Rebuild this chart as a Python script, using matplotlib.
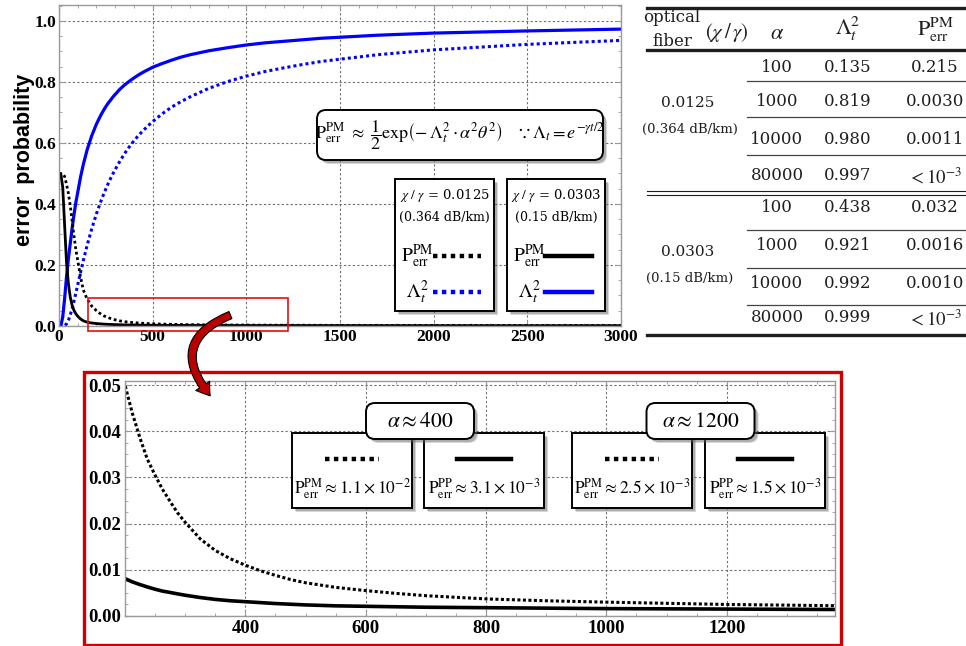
import matplotlib
matplotlib.use("Agg")
import matplotlib.pyplot as plt
from matplotlib.transforms import Affine2D
from matplotlib.patches import FancyBboxPatch, Rectangle, FancyArrowPatch
from matplotlib.lines import Line2D
from matplotlib.ticker import MultipleLocator

W, H = 966, 646

# alpha values shared by every curve
alpha = [0, 10, 20, 30, 40, 50, 60, 70, 80, 90, 100,
         115, 130, 150, 175,
         200, 212, 225, 237, 250, 262, 275, 287, 300,
         325, 350, 375, 400, 425, 450, 475, 500,
         550, 600, 650, 700,
         800, 900, 1000, 1100, 1200, 1300, 1400,
         1700, 2000, 2500, 3000]

# chi/gamma = 0.0303 (0.15 dB/km): solid lines
p_err_0303 = [0.500, 0.497, 0.455, 0.330, 0.210, 0.140, 0.095, 0.068, 0.051, 0.040, 0.032,
              0.023, 0.017, 0.0125, 0.0098,
              0.0081, 0.0074, 0.0068, 0.0063, 0.0058, 0.0054, 0.0051, 0.0048, 0.0045,
              0.0040, 0.0036, 0.0033, 0.0031, 0.0029, 0.0027, 0.00255, 0.0024,
              0.0022, 0.0021, 0.0020, 0.0019,
              0.0018, 0.0017, 0.0016, 0.00155, 0.0015, 0.00145, 0.0014,
              0.0013, 0.0012, 0.0011, 0.0011]
lam2_0303 = [0.0, 0.0003, 0.03, 0.09, 0.16, 0.22, 0.27, 0.32, 0.365, 0.405, 0.438,
             0.488, 0.530, 0.577, 0.624,
             0.662, 0.677, 0.693, 0.706, 0.719, 0.730, 0.740, 0.750, 0.759,
             0.776, 0.790, 0.802, 0.813, 0.823, 0.832, 0.840, 0.848,
             0.860, 0.871, 0.881, 0.889,
             0.902, 0.912, 0.921, 0.928, 0.933, 0.938, 0.943,
             0.953, 0.960, 0.967, 0.973]

# chi/gamma = 0.0125 (0.364 dB/km): dotted lines
p_err_0125 = [0.500, 0.500, 0.499, 0.490, 0.465, 0.435, 0.395, 0.345, 0.295, 0.250, 0.215,
              0.160, 0.118, 0.088, 0.065,
              0.050, 0.044, 0.0385, 0.034, 0.0305, 0.0275, 0.0248, 0.0224, 0.0203,
              0.0167, 0.0142, 0.0124, 0.0110, 0.0098, 0.0088, 0.0079, 0.0072,
              0.0062, 0.0055, 0.0049, 0.0044,
              0.0037, 0.0033, 0.0030, 0.00275, 0.0025, 0.00235, 0.0022,
              0.0019, 0.0017, 0.0014, 0.0013]
lam2_0125 = [0.0, 0.0, 0.0001, 0.0013, 0.0067, 0.018, 0.036, 0.057, 0.082, 0.108, 0.135,
             0.176, 0.215, 0.264, 0.319,
             0.368, 0.389, 0.411, 0.430, 0.449, 0.466, 0.483, 0.498, 0.513,
             0.540, 0.565, 0.587, 0.607, 0.625, 0.641, 0.656, 0.670,
             0.695, 0.717, 0.735, 0.751,
             0.779, 0.801, 0.819, 0.834, 0.846, 0.857, 0.867,
             0.889, 0.905, 0.923, 0.936]

# values quoted in the zoomed panel
note_alpha = [400, 1200]
note_pm = [("1.1", -2), ("2.5", -3)]
note_pp = [("3.1", -3), ("1.5", -3)]

# table on the right
tab_ratio = ["0.0125", "0.0303"]
tab_loss = ["(0.364 dB/km)", "(0.15 dB/km)"]
tab_alpha = ["100", "1000", "10000", "80000"]
tab_lam2 = [["0.135", "0.819", "0.980", "0.997"],
            ["0.438", "0.921", "0.992", "0.999"]]
tab_perr = [["0.215", "0.0030", "0.0011", r"$<10^{-3}$"],
            ["0.032", "0.0016", "0.0010", r"$<10^{-3}$"]]

plt.rcParams["mathtext.fontset"] = "stix"
plt.rcParams["font.family"] = "DejaVu Serif"

fig = plt.figure(figsize=(W / 100, H / 100), dpi=100)
# pixel coordinates measured from the top-left corner
px = Affine2D().scale(1 / W, -1 / H).translate(0, 1) + fig.transFigure

PERR = r"$\mathrm{P}_{\mathrm{err}}^{\mathrm{PM}}$"


def tickfont(size):
    return dict(family="Liberation Serif", weight="bold", size=size)


def ax_rect(l, t, r, b):
    return [l / W, 1 - b / H, (r - l) / W, (b - t) / H]


def frame_style(a, xmin, ymin, pad):
    for s in a.spines.values():
        s.set_color("#9a9a9a")
        s.set_linewidth(1.0)
    a.xaxis.set_minor_locator(MultipleLocator(xmin))
    a.yaxis.set_minor_locator(MultipleLocator(ymin))
    a.tick_params(which="both", direction="in", top=True, right=True,
                  color="#9a9a9a", pad=pad)
    a.tick_params(which="major", length=4)
    a.tick_params(which="minor", length=2)
    a.grid(True, which="major", color="#6f6f6f", lw=0.8, ls=(0, (2, 2)))
    a.set_axisbelow(True)


def box(x0, y0, x1, y1, rounded=False, z=5):
    style = "round,pad=0,rounding_size=9" if rounded else "square,pad=0"
    for off, al in ((4, 0.25), (3, 0.35)):
        fig.add_artist(FancyBboxPatch((x0 + off, y0 + off), x1 - x0, y1 - y0,
                                      boxstyle=style, fc="#606060", ec="none",
                                      alpha=al, transform=px, zorder=z))
    fig.add_artist(FancyBboxPatch((x0, y0), x1 - x0, y1 - y0, boxstyle=style,
                                  fc="white", ec="black", lw=1.4,
                                  transform=px, zorder=z + 0.5))


def sample(x0, x1, y, color, dotted, z=7):
    ls = (0, (1, 1)) if dotted else "-"
    fig.add_artist(Line2D([x0, x1], [y, y], color=color, lw=3.2, ls=ls,
                          transform=px, zorder=z))


def label(x, y, s, size, z=7, **kw):
    fig.text(x, y, s, transform=px, ha=kw.pop("ha", "center"), va="center",
             fontsize=size, zorder=z, **kw)


# ---------------- main plot ----------------
ax = fig.add_axes(ax_rect(59, 5, 621, 326))
ax.plot(alpha, lam2_0303, color="#0000ff", lw=2.3)
ax.plot(alpha, lam2_0125, color="#0000ff", lw=2.2, ls=(0, (1, 1)))
ax.plot(alpha, p_err_0303, color="black", lw=2.0)
ax.plot(alpha, p_err_0125, color="black", lw=2.0, ls=(0, (1, 1)))
ax.set_xlim(0, 3000)
ax.set_ylim(0, 1.052)
ax.set_xticks(range(0, 3001, 500))
ax.set_xticklabels([str(v) for v in range(0, 3001, 500)], **tickfont(12.5))
ax.set_yticks([0, 0.2, 0.4, 0.6, 0.8, 1.0])
ax.set_yticklabels(["0.0", "0.2", "0.4", "0.6", "0.8", "1.0"], **tickfont(12.5))
frame_style(ax, 100, 0.05, 2)

# region shown enlarged below
ax.add_patch(Rectangle((155, -0.016), 1065, 0.108, fill=False, ec="#e01010",
                       lw=1.2, clip_on=False, zorder=6))

fig.text(25, 160, "error  probability", transform=px, rotation=90,
         ha="center", va="center", family="Liberation Sans", weight="bold",
         fontsize=15.5)

# formula box
box(317, 110, 603, 160, rounded=True)
label(460, 135, PERR[:-1] + r"\ \approx\ \dfrac{1}{2}\mathrm{exp}\left(-\,\Lambda_t^2"
      r"\cdot\alpha^2\theta^2\right)\quad\because\Lambda_t=e^{-\gamma t/2}$", 13)

# legend boxes
for (x0, x1), ratio, loss, dotted in (((395, 494), tab_ratio[0], tab_loss[0], True),
                                      ((507, 605), tab_ratio[1], tab_loss[1], False)):
    box(x0, 179, x1, 311)
    xc = (x0 + x1) / 2
    label(xc, 196, r"$\chi\ /\ \gamma$ = " + ratio, 9.5)
    label(xc, 217, loss, 9)
    label(x0 + 22, 256, PERR, 14)
    sample(x0 + 38, x1 - 13, 256, "black", dotted)
    label(x0 + 22, 292, r"$\Lambda_t^2$", 14)
    sample(x0 + 38, x1 - 13, 292, "#0000ff", dotted)

# ---------------- zoomed panel ----------------
ax2 = fig.add_axes(ax_rect(125, 381, 835, 616))
ax2.plot(alpha, p_err_0303, color="black", lw=2.6)
ax2.plot(alpha, p_err_0125, color="black", lw=2.2, ls=(0, (1, 0.8)))
ax2.set_xlim(200, 1380)
ax2.set_ylim(0, 0.0509)
ax2.set_xticks([400, 600, 800, 1000, 1200])
ax2.set_xticklabels(["400", "600", "800", "1000", "1200"], **tickfont(13.5))
ax2.set_yticks([0, 0.01, 0.02, 0.03, 0.04, 0.05])
ax2.set_yticklabels(["0.00", "0.01", "0.02", "0.03", "0.04", "0.05"], **tickfont(13.5))
frame_style(ax2, 50, 0.0025, 3)

fig.add_artist(Rectangle((84, 372), 757, 273, fill=False, ec="#d00000", lw=2.4,
                         transform=px, zorder=4))

for i, (xa, xb) in enumerate(((292, 424), (572, 705))):
    for j, (x0, (m, e), kind, dotted) in enumerate(((xa, note_pm[i], "PM", True),
                                                    (xb, note_pp[i], "PP", False))):
        box(x0, 433, x0 + 120, 508)
        sample(x0 + 33, x0 + 87, 459, "black", dotted)
        label(x0 + 60, 489, r"$\mathrm{P}_{\mathrm{err}}^{\mathrm{%s}}\approx %s\times10^{%d}$"
              % (kind, m, e), 12.5)
    xc = (xa + xb + 120) / 2 + 2
    box(xc - 54, 403, xc + 54, 439, rounded=True, z=8)
    label(xc, 421, r"$\alpha\approx%d$" % note_alpha[i], 15.5, z=10)

# curved arrow linking the two panels
fig.add_artist(FancyArrowPatch((233, 314), (212, 398), transform=px,
                               connectionstyle="arc3,rad=0.7",
                               arrowstyle="simple,head_width=12,head_length=9,tail_width=5.5",
                               fc="#b80000", ec="black", lw=0.8, zorder=9))

# ---------------- table ----------------
tx = [688, 777, 848, 935]
tcol = "#1e1e1e"
for y, w in ((8, 2.4), (50, 2.4), (335, 2.4), (191, 0.8), (195, 0.8)):
    fig.add_artist(Line2D([647, 966], [y, y], color=tcol, lw=w, transform=px))
label(672, 18, "optical", 12, color=tcol)
label(672, 41, "fiber", 12, color=tcol)
label(727, 33, r"$(\chi\,/\,\gamma)$", 15, color=tcol)
label(tx[1], 33, r"$\alpha$", 16, color=tcol)
label(tx[2], 29, r"$\Lambda_t^2$", 16, color=tcol)
label(tx[3], 30, PERR, 16, color=tcol)

row_y = [[67, 102, 140, 175], [208, 245, 283, 317]]
sep_y = [[81, 117, 155], [230, 268, 305]]
group_y = [(103, 129), (252, 278)]
for g in range(2):
    label(tx[0], group_y[g][0], tab_ratio[g], 11, color=tcol)
    label(tx[0] + 2, group_y[g][1], tab_loss[g], 9.5, color=tcol)
    for r in range(4):
        y = row_y[g][r]
        label(tx[1], y, tab_alpha[r], 12, color=tcol)
        label(tx[2], y, tab_lam2[g][r], 12, color=tcol)
        if r == 3:
            label(tx[3], y + 2, tab_perr[g][r], 13.5, color=tcol)
        else:
            label(tx[3], y, tab_perr[g][r], 12, color=tcol)
    for y in sep_y[g]:
        fig.add_artist(Line2D([747, 966], [y, y], color="#444444", lw=0.9,
                              transform=px))

fig.savefig("out.png", dpi=100)
